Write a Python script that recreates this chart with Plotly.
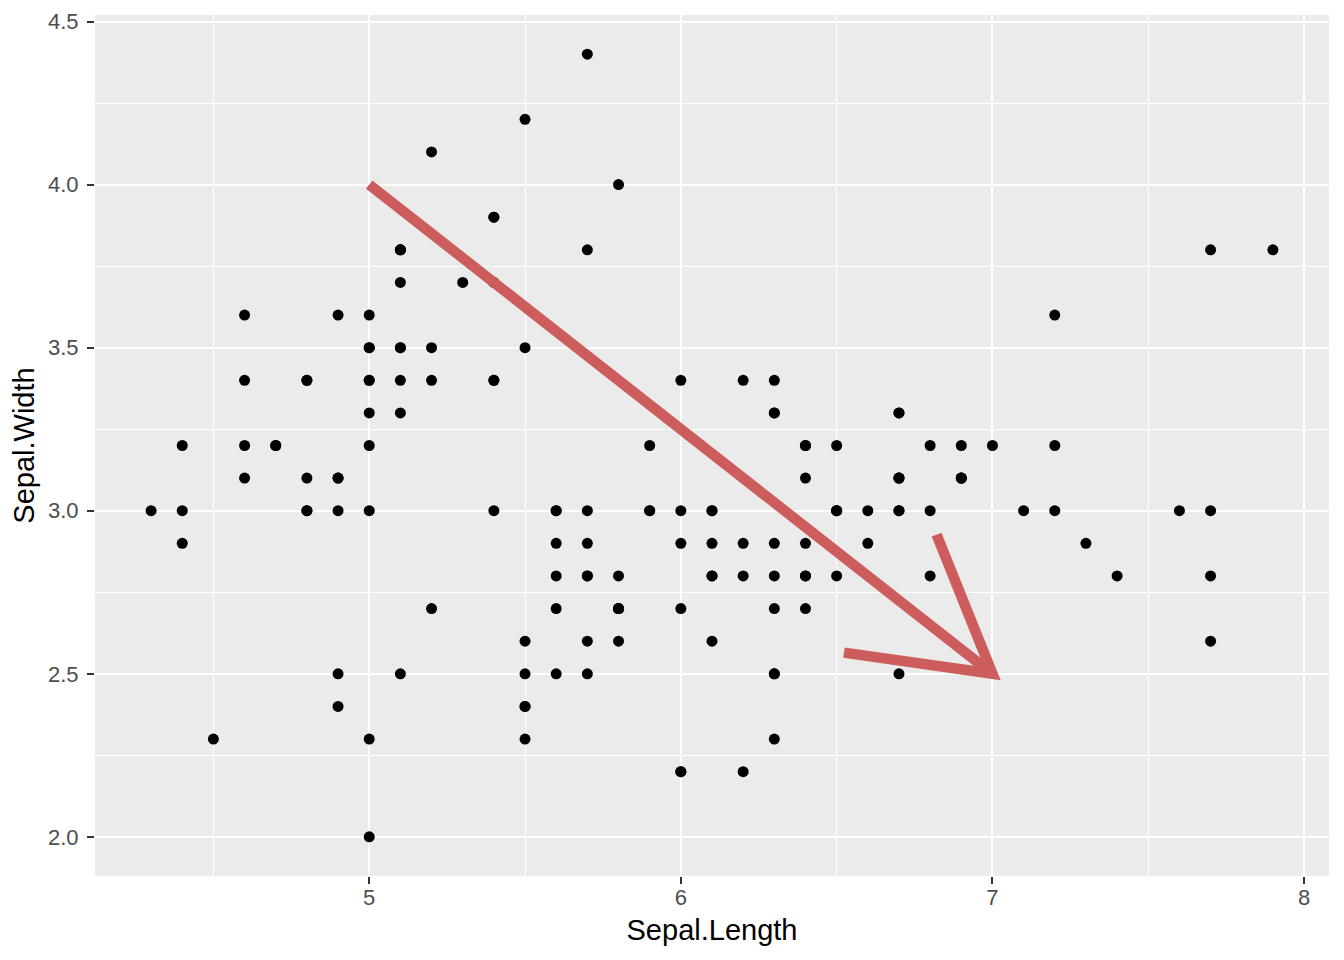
import math
import plotly.graph_objects as go

sepal_length = [
    5.1, 4.9, 4.7, 4.6, 5.0, 5.4, 4.6, 5.0, 4.4, 4.9, 5.4, 4.8, 4.8, 4.3, 5.8, 5.7, 5.4, 5.1, 5.7, 5.1,
    5.4, 5.1, 4.6, 5.1, 4.8, 5.0, 5.0, 5.2, 5.2, 4.7, 4.8, 5.4, 5.2, 5.5, 4.9, 5.0, 5.5, 4.9, 4.4, 5.1,
    5.0, 4.5, 4.4, 5.0, 5.1, 4.8, 5.1, 4.6, 5.3, 5.0,
    7.0, 6.4, 6.9, 5.5, 6.5, 5.7, 6.3, 4.9, 6.6, 5.2, 5.0, 5.9, 6.0, 6.1, 5.6, 6.7, 5.6, 5.8, 6.2, 5.6,
    5.9, 6.1, 6.3, 6.1, 6.4, 6.6, 6.8, 6.7, 6.0, 5.7, 5.5, 5.5, 5.8, 6.0, 5.4, 6.0, 6.7, 6.3, 5.6, 5.5,
    5.5, 6.1, 5.8, 5.0, 5.6, 5.7, 5.7, 6.2, 5.1, 5.7,
    6.3, 5.8, 7.1, 6.3, 6.5, 7.6, 4.9, 7.3, 6.7, 7.2, 6.5, 6.4, 6.8, 5.7, 5.8, 6.4, 6.5, 7.7, 7.7, 6.0,
    6.9, 5.6, 7.7, 6.3, 6.7, 7.2, 6.2, 6.1, 6.4, 7.2, 7.4, 7.9, 6.4, 6.3, 6.1, 7.7, 6.3, 6.4, 6.0, 6.9,
    6.7, 6.9, 5.8, 6.8, 6.7, 6.7, 6.3, 6.5, 6.2, 5.9,
]
sepal_width = [
    3.5, 3.0, 3.2, 3.1, 3.6, 3.9, 3.4, 3.4, 2.9, 3.1, 3.7, 3.4, 3.0, 3.0, 4.0, 4.4, 3.9, 3.5, 3.8, 3.8,
    3.4, 3.7, 3.6, 3.3, 3.4, 3.0, 3.4, 3.5, 3.4, 3.2, 3.1, 3.4, 4.1, 4.2, 3.1, 3.2, 3.5, 3.6, 3.0, 3.4,
    3.5, 2.3, 3.2, 3.5, 3.8, 3.0, 3.8, 3.2, 3.7, 3.3,
    3.2, 3.2, 3.1, 2.3, 2.8, 2.8, 3.3, 2.4, 2.9, 2.7, 2.0, 3.0, 2.2, 2.9, 2.9, 3.1, 3.0, 2.7, 2.2, 2.5,
    3.2, 2.8, 2.5, 2.8, 2.9, 3.0, 2.8, 3.0, 2.9, 2.6, 2.4, 2.4, 2.7, 2.7, 3.0, 3.4, 3.1, 2.3, 3.0, 2.5,
    2.6, 3.0, 2.6, 2.3, 2.7, 3.0, 2.9, 2.9, 2.5, 2.8,
    3.3, 2.7, 3.0, 2.9, 3.0, 3.0, 2.5, 2.9, 2.5, 3.6, 3.2, 2.7, 3.0, 2.5, 2.8, 3.2, 3.0, 3.8, 2.6, 2.2,
    3.2, 2.8, 2.8, 2.7, 3.3, 3.2, 2.8, 3.0, 2.8, 3.0, 2.8, 3.8, 2.8, 2.8, 2.6, 3.0, 3.4, 3.1, 3.0, 3.1,
    3.1, 3.1, 2.7, 3.2, 3.3, 3.0, 2.5, 3.0, 3.4, 3.0,
]

x_ticks = [5, 6, 7, 8]
y_ticks = [2.0, 2.5, 3.0, 3.5, 4.0, 4.5]
y_tick_labels = ["2.0", "2.5", "3.0", "3.5", "4.0", "4.5"]

arrow_start = (5.0, 4.0)
arrow_end = (7.0, 2.5)

# layout geometry (page body has an 8px margin)
W, H = 1336, 952
ML, MR, MT, MB = 87, 15, 7, 84
xmin, xmax = min(sepal_length), max(sepal_length)
ymin, ymax = min(sepal_width), max(sepal_width)
xpad = 0.05 * (xmax - xmin)
ypad = 0.05 * (ymax - ymin)
xr = [xmin - xpad, xmax + xpad]
yr = [ymin - ypad, ymax + ypad]

pw = W - ML - MR
ph = H - MT - MB
sx = pw / (xr[1] - xr[0])
sy = ph / (yr[1] - yr[0])

# open arrowhead (30 degrees, ~150px arms) computed in pixel space
dxp = (arrow_end[0] - arrow_start[0]) * sx
dyp = (arrow_end[1] - arrow_start[1]) * sy
L = math.hypot(dxp, dyp)
ux, uy = -dxp / L, -dyp / L
arm = 150
ang = math.radians(30)
heads = []
for s in (1, -1):
    c, sn = math.cos(s * ang), math.sin(s * ang)
    rx = ux * c - uy * sn
    ry = ux * sn + uy * c
    heads.append((arrow_end[0] + rx * arm / sx, arrow_end[1] + ry * arm / sy))

arrow_col = "#CD5C5C"
lw = 10.5

fig = go.Figure()
fig.add_trace(go.Scatter(
    x=sepal_length, y=sepal_width, mode="markers",
    marker=dict(color="black", size=11, line=dict(width=0)),
    showlegend=False, hoverinfo="x+y",
))

fig.add_shape(type="line", xref="x", yref="y",
              x0=arrow_start[0], y0=arrow_start[1], x1=arrow_end[0], y1=arrow_end[1],
              line=dict(color=arrow_col, width=lw))
path = "M {} {} L {} {} L {} {}".format(heads[0][0], heads[0][1], arrow_end[0], arrow_end[1],
                                        heads[1][0], heads[1][1])
fig.add_shape(type="path", xref="x", yref="y", path=path,
              line=dict(color=arrow_col, width=lw))

FONT = "Liberation Sans, Arial, sans-serif"
axis_common = dict(
    showline=False, zeroline=False,
    gridcolor="white", gridwidth=2.2,
    ticks="outside", ticklen=7, tickwidth=2, tickcolor="#333333",
    tickfont=dict(family=FONT, size=22, color="#4D4D4D"),
    title_font=dict(family=FONT, size=29, color="black"),
)

fig.update_xaxes(
    range=xr, tickvals=x_ticks, ticktext=[str(v) for v in x_ticks],
    title_text="Sepal.Length", title_standoff=10, ticklabelstandoff=-5,
    minor=dict(tickvals=[4.5, 5.5, 6.5, 7.5], gridcolor="white", gridwidth=1.1, ticks=""),
    **axis_common,
)
fig.update_yaxes(
    range=yr, tickvals=y_ticks, ticktext=y_tick_labels,
    title_text="Sepal.Width", title_standoff=5, ticklabelstandoff=4,
    minor=dict(tickvals=[2.25, 2.75, 3.25, 3.75, 4.25], gridcolor="white", gridwidth=1.1, ticks=""),
    **axis_common,
)

fig.update_layout(
    width=W, height=H,
    margin=dict(l=ML, r=MR, t=MT, b=MB, autoexpand=False),
    plot_bgcolor="#EBEBEB", paper_bgcolor="white",
    font=dict(family=FONT),
)

fig.write_html("out.html")
